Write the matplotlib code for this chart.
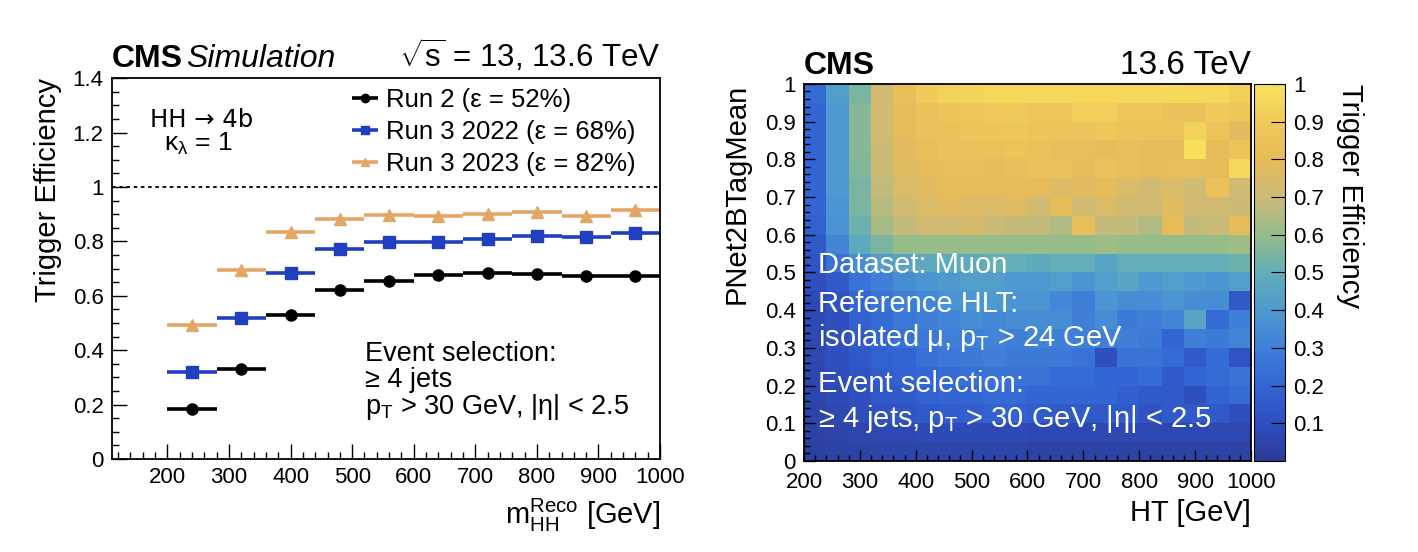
import numpy as np
import matplotlib
matplotlib.use("Agg")
import matplotlib.pyplot as plt
from matplotlib.colors import LinearSegmentedColormap
from matplotlib.ticker import MultipleLocator, FuncFormatter

plt.rcParams['font.family'] = ['Liberation Sans', 'DejaVu Sans']
plt.rcParams['mathtext.fontset'] = 'custom'
plt.rcParams['mathtext.rm'] = 'Liberation Sans'
plt.rcParams['mathtext.it'] = 'Liberation Sans:italic'
plt.rcParams['mathtext.bf'] = 'Liberation Sans:bold'

# ---- left panel: efficiency vs m_HH ----
bin_lo = [200, 280, 360, 440, 520, 600, 680, 760, 840, 920]
bin_hi = [280, 360, 440, 520, 600, 680, 760, 840, 920, 1000]
eff_run2 = [0.183, 0.332, 0.528, 0.620, 0.656, 0.677, 0.685, 0.680, 0.671, 0.671]
eff_2022 = [0.320, 0.517, 0.682, 0.771, 0.798, 0.798, 0.807, 0.821, 0.815, 0.830]
eff_2023 = [0.493, 0.695, 0.835, 0.883, 0.896, 0.893, 0.902, 0.907, 0.893, 0.915]
labels = ['Run 2 (ε = 52%)', 'Run 3 2022 (ε = 68%)', 'Run 3 2023 (ε = 82%)']

# ---- right panel: 2D efficiency map (rows listed top -> bottom) ----
ht_edges = np.arange(200, 1001, 40)
tag_edges = np.linspace(0, 1, 21)
eff_map_top_down = [
    [0.22, 0.42, 0.55, 0.72, 0.82, 0.90, 0.93, 0.94, 0.95, 0.95, 0.95, 0.95, 0.95, 0.95, 0.95, 0.95, 0.96, 0.95, 0.95, 0.92],
    [0.20, 0.40, 0.57, 0.72, 0.80, 0.85, 0.87, 0.88, 0.90, 0.90, 0.88, 0.88, 0.92, 0.92, 0.88, 0.88, 0.84, 0.84, 0.90, 0.88],
    [0.20, 0.40, 0.57, 0.72, 0.80, 0.84, 0.85, 0.86, 0.87, 0.88, 0.86, 0.86, 0.86, 0.88, 0.86, 0.86, 0.86, 0.93, 0.86, 0.78],
    [0.20, 0.40, 0.57, 0.70, 0.78, 0.82, 0.84, 0.84, 0.85, 0.86, 0.84, 0.82, 0.82, 0.80, 0.82, 0.80, 0.80, 0.99, 0.80, 0.86],
    [0.20, 0.40, 0.56, 0.70, 0.77, 0.80, 0.82, 0.82, 0.80, 0.82, 0.84, 0.84, 0.80, 0.84, 0.82, 0.80, 0.82, 0.82, 0.80, 0.95],
    [0.20, 0.40, 0.55, 0.68, 0.75, 0.78, 0.80, 0.80, 0.80, 0.80, 0.80, 0.76, 0.78, 0.80, 0.75, 0.72, 0.75, 0.72, 0.84, 0.72],
    [0.20, 0.38, 0.55, 0.66, 0.72, 0.75, 0.78, 0.76, 0.75, 0.77, 0.72, 0.80, 0.72, 0.75, 0.72, 0.72, 0.78, 0.72, 0.72, 0.70],
    [0.18, 0.37, 0.52, 0.63, 0.68, 0.72, 0.72, 0.74, 0.70, 0.68, 0.68, 0.65, 0.82, 0.68, 0.68, 0.65, 0.80, 0.68, 0.70, 0.80],
    [0.15, 0.32, 0.48, 0.55, 0.60, 0.60, 0.60, 0.60, 0.60, 0.60, 0.60, 0.60, 0.60, 0.62, 0.60, 0.60, 0.60, 0.60, 0.60, 0.62],
    [0.12, 0.25, 0.35, 0.42, 0.45, 0.48, 0.48, 0.48, 0.50, 0.50, 0.48, 0.50, 0.50, 0.45, 0.50, 0.50, 0.50, 0.50, 0.50, 0.52],
    [0.10, 0.15, 0.25, 0.30, 0.35, 0.38, 0.40, 0.42, 0.42, 0.40, 0.40, 0.42, 0.38, 0.42, 0.45, 0.40, 0.42, 0.40, 0.38, 0.42],
    [0.08, 0.12, 0.20, 0.25, 0.30, 0.33, 0.37, 0.38, 0.40, 0.38, 0.38, 0.33, 0.30, 0.38, 0.35, 0.35, 0.38, 0.35, 0.35, 0.15],
    [0.08, 0.10, 0.18, 0.22, 0.27, 0.30, 0.32, 0.35, 0.33, 0.35, 0.35, 0.35, 0.30, 0.35, 0.28, 0.30, 0.32, 0.45, 0.22, 0.30],
    [0.07, 0.10, 0.15, 0.20, 0.25, 0.27, 0.30, 0.30, 0.32, 0.30, 0.32, 0.30, 0.30, 0.30, 0.30, 0.28, 0.20, 0.30, 0.28, 0.32],
    [0.07, 0.10, 0.14, 0.18, 0.20, 0.24, 0.27, 0.28, 0.30, 0.28, 0.28, 0.28, 0.25, 0.10, 0.25, 0.25, 0.22, 0.15, 0.22, 0.12],
    [0.06, 0.09, 0.12, 0.16, 0.18, 0.20, 0.22, 0.24, 0.25, 0.25, 0.25, 0.22, 0.22, 0.20, 0.20, 0.22, 0.15, 0.20, 0.22, 0.25],
    [0.06, 0.08, 0.10, 0.14, 0.15, 0.18, 0.20, 0.20, 0.22, 0.22, 0.20, 0.20, 0.20, 0.20, 0.17, 0.15, 0.15, 0.10, 0.18, 0.22],
    [0.05, 0.07, 0.09, 0.12, 0.13, 0.15, 0.16, 0.17, 0.18, 0.18, 0.16, 0.15, 0.15, 0.15, 0.15, 0.12, 0.15, 0.15, 0.15, 0.10],
    [0.04, 0.05, 0.06, 0.07, 0.07, 0.08, 0.08, 0.08, 0.08, 0.08, 0.07, 0.07, 0.07, 0.07, 0.07, 0.07, 0.07, 0.07, 0.07, 0.07],
    [0.03, 0.04, 0.04, 0.05, 0.05, 0.05, 0.05, 0.05, 0.05, 0.05, 0.04, 0.04, 0.04, 0.04, 0.04, 0.04, 0.04, 0.04, 0.04, 0.04],
]

bird_like = LinearSegmentedColormap.from_list('bird_like', [
    (0.0, '#2b3a94'), (0.1, '#2f4fbf'), (0.2, '#3366d4'), (0.3, '#3f80d8'),
    (0.4, '#4e9ad0'), (0.5, '#62aeb8'), (0.6, '#96bc8a'), (0.7, '#cbbb78'),
    (0.8, '#e6bb5a'), (0.9, '#f0c95a'), (1.0, '#f7e35c')])


def style_axis(ax):
    ax.tick_params(which='both', direction='in', top=False, right=False, labelsize=16, pad=6)
    ax.tick_params(which='major', length=11, width=1)
    ax.tick_params(which='minor', length=5, width=1)
    for s in ax.spines.values():
        s.set_linewidth(1.3)


def num_fmt(v, pos):
    return f'{v:g}'


fig = plt.figure(figsize=(14.18, 5.52), dpi=100)

# ---------- left ----------
ax = fig.add_axes([0.079, 0.1685, 0.3865, 0.690])
centers = (np.array(bin_lo) + np.array(bin_hi)) / 2
half = (np.array(bin_hi) - np.array(bin_lo)) / 2
series = [
    (eff_run2, 'black', 'o', 8),
    (eff_2022, '#1f3fbf', 's', 8.5),
    (eff_2023, '#e3a666', '^', 8.5),
]
for (vals, col, mk, ms), lab in zip(series, labels):
    ax.errorbar(centers, vals, xerr=half, fmt=mk, color=col, ms=ms, elinewidth=2.6,
                capsize=0, label=lab)
ax.axhline(1.0, color='black', ls=(0, (2, 2)), lw=1.3)
ax.set_xlim(110, 1000)
ax.set_ylim(0, 1.4)
ax.set_xticks(np.arange(200, 1001, 100))
ax.xaxis.set_minor_locator(MultipleLocator(20))
ax.yaxis.set_major_locator(MultipleLocator(0.2))
ax.yaxis.set_minor_locator(MultipleLocator(0.05))
ax.yaxis.set_major_formatter(FuncFormatter(num_fmt))
style_axis(ax)
ax.set_ylabel('Trigger Efficiency', fontsize=21, loc='top', labelpad=8)
ax.set_xlabel(r'm$_{\mathrm{HH}}^{\mathrm{Reco}}$ [GeV]', fontsize=21, loc='right', labelpad=6)
ax.legend(loc='upper left', bbox_to_anchor=(0.41, 1.015), frameon=False, fontsize=18.5,
          handlelength=1.0, handletextpad=0.3, labelspacing=0.32, borderaxespad=0.2,
          markerscale=0.75)
ax.text(255, 1.245, 'HH → 4b', fontsize=17.5, ha='center', va='center',
        family=['DejaVu Sans'])
ax.text(250, 1.16, r'κ$_{\mathrm{λ}}$ = 1', fontsize=19, ha='center', va='center')
ax.text(521, 0.385, 'Event selection:', fontsize=19.5, va='center')
ax.text(521, 0.29, '≥ 4 jets', fontsize=19.5, va='center')
ax.text(521, 0.19, r'p$_{\mathrm{T}}$ > 30 GeV, |η| < 2.5', fontsize=19.5, va='center')
ax.text(0.0, 1.012, 'CMS', transform=ax.transAxes, fontsize=23, fontweight='bold',
        ha='left', va='bottom')
ax.text(0.135, 1.012, 'Simulation', transform=ax.transAxes, fontsize=23, style='italic',
        ha='left', va='bottom')
ax.text(1.0, 1.012, r'$\sqrt{\mathrm{s}}$ = 13, 13.6 TeV', transform=ax.transAxes,
        fontsize=22.5, ha='right', va='bottom')

# ---------- right ----------
ax2 = fig.add_axes([0.567, 0.165, 0.3152, 0.683])
eff_map = np.array(eff_map_top_down)[::-1]
mesh = ax2.pcolormesh(ht_edges, tag_edges, eff_map, cmap=bird_like, vmin=0, vmax=1)
ax2.set_xlim(200, 1000)
ax2.set_ylim(0, 1)
ax2.set_xticks(np.arange(200, 1001, 100))
ax2.xaxis.set_minor_locator(MultipleLocator(20))
ax2.yaxis.set_major_locator(MultipleLocator(0.1))
ax2.yaxis.set_minor_locator(MultipleLocator(0.02))
ax2.yaxis.set_major_formatter(FuncFormatter(num_fmt))
style_axis(ax2)
ax2.tick_params(which='major', length=8)
ax2.tick_params(which='minor', length=4)
ax2.tick_params(axis='x', pad=8)
ax2.set_ylabel('PNet2BTagMean', fontsize=21, loc='top', labelpad=10)
ax2.set_xlabel('HT [GeV]', fontsize=21, loc='right', labelpad=4)
txt = dict(color='white', fontsize=21, va='center', ha='left')
ax2.text(225, 0.52, 'Dataset: Muon', **txt)
ax2.text(225, 0.415, 'Reference HLT:', **txt)
ax2.text(225, 0.325, r'isolated μ, p$_{\mathrm{T}}$ > 24 GeV', **txt)
ax2.text(225, 0.205, 'Event selection:', **txt)
ax2.text(225, 0.11, r'≥ 4 jets, p$_{\mathrm{T}}$ > 30 GeV, |η| < 2.5', **txt)
ax2.text(0.0, 1.008, 'CMS', transform=ax2.transAxes, fontsize=23, fontweight='bold',
         ha='left', va='bottom')
ax2.text(1.0, 1.008, '13.6 TeV', transform=ax2.transAxes, fontsize=24,
         ha='right', va='bottom')

cax = fig.add_axes([0.8843, 0.165, 0.0219, 0.683])
cb = fig.colorbar(mesh, cax=cax, ticks=np.arange(0.1, 1.01, 0.1))
cb.ax.yaxis.set_major_formatter(FuncFormatter(lambda v, p: f'{round(v, 1):g}'))
cb.ax.tick_params(direction='in', length=10, labelsize=16, pad=6)
cb.outline.set_linewidth(0.8)
cax.text(3.1, 1.0, 'Trigger Efficiency', transform=cax.transAxes, fontsize=21,
         rotation=-90, ha='center', va='top')

fig.savefig('out.png', dpi=100)
